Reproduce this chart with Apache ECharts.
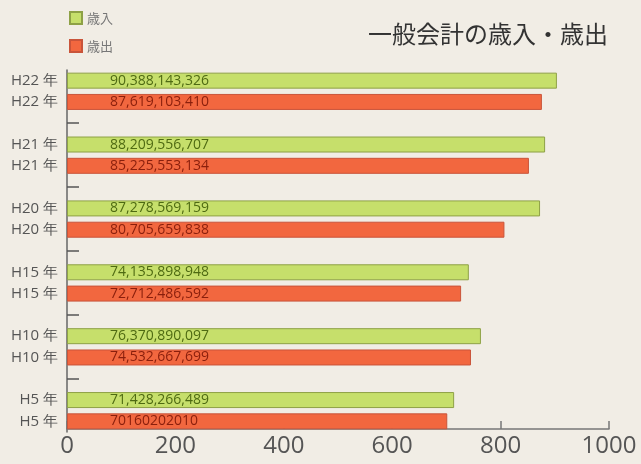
<!DOCTYPE html>
<html><head><meta charset="utf-8">
<script src="https://cdn.jsdelivr.net/npm/echarts@6/dist/echarts.min.js"></script>
<style>html,body{margin:0;padding:0;background:#f1ede5;}#c{width:641px;height:464px;}</style>
</head><body><div id="c"></div>
<script>
var years = ['H22 年','H21 年','H20 年','H15 年','H10 年','H5 年'];
var revenue = [903.88, 882.10, 872.79, 741.36, 763.71, 714.28];      // 億円
var expenditure = [876.19, 852.26, 807.06, 727.12, 745.33, 701.60];  // 億円
var revenueLabels = ['90,388,143,326','88,209,556,707','87,278,569,159','74,135,898,948','76,370,890,097','71,428,266,489'];
var expenditureLabels = ['87,619,103,410','85,225,553,134','80,705,659,838','72,712,486,592','74,532,667,699','70160202010'];
var xTicks = [0, 200, 400, 600, 800, 1000];

var cats = [], revData = [], expData = [];
years.forEach(function (y, i) {
  cats.push(y); revData.push({value: revenue[i], lab: revenueLabels[i]}); expData.push('-');
  cats.push(y); revData.push('-'); expData.push({value: expenditure[i], lab: expenditureLabels[i]});
  if (i < years.length - 1) { cats.push(''); revData.push('-'); expData.push('-'); }
});

var chart = echarts.init(document.getElementById('c'));
chart.setOption({
  backgroundColor: '#f1ede5',
  animation: false,
  title: {text: '一般会計の歳入・歳出', right: 28, top: 17,
    textStyle: {fontSize: 24, fontWeight: 'normal', color: '#333', fontFamily: 'Noto Sans CJK JP'}},
  legend: {orient: 'vertical', left: 64, top: 6, icon: 'rect', itemWidth: 12, itemHeight: 12, itemGap: 14,
    textStyle: {fontSize: 13, color: '#777', fontFamily: 'Noto Sans CJK JP'}},
  grid: {left: 67, right: 32, top: 70, bottom: 32},
  xAxis: {type: 'value', min: xTicks[0], max: xTicks[xTicks.length-1], interval: 200, offset: -3,
    splitLine: {show: false},
    axisLine: {show: true, lineStyle: {color: '#777', width: 1.5}},
    axisTick: {show: true, inside: true, length: 8, lineStyle: {color: '#777', width: 1.5}},
    axisLabel: {fontSize: 24, color: '#555', margin: 5, fontFamily: 'Open Sans',
      formatter: function (v) { return String(v); }}},
  yAxis: {type: 'category', data: cats, inverse: true,
    axisLine: {show: true, lineStyle: {color: '#666', width: 1.5}},
    axisTick: {show: true, inside: true, length: 12, alignWithLabel: true,
      interval: function (idx, val) { return val === ''; },
      lineStyle: {color: '#555', width: 1.5}},
    axisLabel: {fontSize: 15, color: '#555', margin: 9, interval: 0, fontFamily: 'Open Sans'}},
  series: [
    {name: '歳入', type: 'bar', stack: 's', data: revData, barWidth: 16,
      itemStyle: {color: '#c6df6b', borderColor: '#8ea146', borderWidth: 1},
      label: {show: true, position: 'insideLeft', offset: [38, 0], fontSize: 14, color: '#4e6a12',
        fontFamily: 'Open Sans', formatter: function (p) { return p.data.lab; }}},
    {name: '歳出', type: 'bar', stack: 's', data: expData, barWidth: 16,
      itemStyle: {color: '#f2673f', borderColor: '#c9543a', borderWidth: 1},
      label: {show: true, position: 'insideLeft', offset: [38, 0], fontSize: 14, color: '#8a1f0c',
        fontFamily: 'Open Sans', formatter: function (p) { return p.data.lab; }}}
  ]
});
</script></body></html>
